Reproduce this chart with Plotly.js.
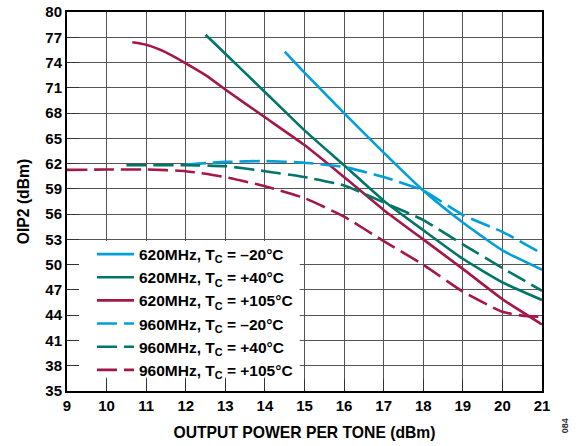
<!DOCTYPE html>
<html>
<head>
<meta charset="utf-8">
<script src="https://cdn.plot.ly/plotly-3.0.1.min.js"></script>
<style>html,body{margin:0;padding:0;background:#fff;}#chart{width:584px;height:446px;}</style>
</head>
<body>
<div id="chart"></div>
<script>
// Data
const xTicks = [9, 10, 11, 12, 13, 14, 15, 16, 17, 18, 19, 20, 21];
const yTicks = [35, 38, 41, 44, 47, 50, 53, 56, 59, 62, 65, 68, 71, 74, 77, 80];

const seriesNames = [
  "620MHz, T<sub>C</sub> = –20°C",
  "620MHz, T<sub>C</sub> = +40°C",
  "620MHz, T<sub>C</sub> = +105°C",
  "960MHz, T<sub>C</sub> = –20°C",
  "960MHz, T<sub>C</sub> = +40°C",
  "960MHz, T<sub>C</sub> = +105°C"
];

const x620m20 = [14.5, 15, 16, 17, 18, 19, 20, 21];
const y620m20 = [75.3, 72.8, 68.0, 63.3, 58.8, 55.0, 51.7, 49.4];

const x620p40 = [12.5, 13, 14, 15, 16, 17, 18, 19, 20, 21];
const y620p40 = [77.3, 75.05, 70.5, 65.95, 61.8, 57.6, 54.1, 50.7, 47.9, 45.8];

const x620p105 = [10.65, 11, 11.5, 12, 12.5, 13, 14, 15, 16, 17, 18, 19, 20, 21];
const y620p105 = [76.4, 76.1, 75.2, 73.9, 72.5, 70.8, 67.5, 64.2, 60.4, 56.5, 53.0, 49.5, 45.9, 42.9];

const x960m20 = [12, 13, 14, 15, 16, 17, 18, 19, 20, 21];
const y960m20 = [61.9, 62.2, 62.3, 62.1, 61.6, 60.4, 58.8, 55.9, 53.9, 51.3];

const x960p40 = [10.5, 11, 12, 13, 14, 15, 16, 17, 18, 19, 20, 21];
const y960p40 = [61.8, 61.8, 61.8, 61.7, 61.1, 60.4, 59.4, 57.4, 55.3, 52.4, 49.6, 46.9];

const x960p105 = [9, 10, 11, 12, 13, 14, 15, 16, 17, 18, 19, 20, 20.5, 21];
const y960p105 = [61.25, 61.3, 61.3, 61.1, 60.4, 59.3, 57.9, 55.7, 52.8, 50.0, 46.8, 44.4, 43.95, 43.8];

const cyan = "#009FDA", teal = "#00756A", crimson = "#A3174A";
const dashPat = "20px,7px";

function tr(x, y, name, color, dash) {
  return {x: x, y: y, name: name, type: "scatter", mode: "lines",
    line: {color: color, width: 2.6, dash: dash, shape: "spline", smoothing: 0.5}};
}

const data = [
  tr(x620m20, y620m20, seriesNames[0], cyan, "solid"),
  tr(x620p40, y620p40, seriesNames[1], teal, "solid"),
  tr(x620p105, y620p105, seriesNames[2], crimson, "solid"),
  tr(x960m20, y960m20, seriesNames[3], cyan, dashPat),
  tr(x960p40, y960p40, seriesNames[4], teal, dashPat),
  tr(x960p105, y960p105, seriesNames[5], crimson, dashPat)
];

const fam = "Liberation Sans, Arial, sans-serif";
const tickFont = {family: fam, size: 15, color: "#000", weight: "bold"};
const titleFont = {family: fam, size: 15.7, color: "#000", weight: "bold"};
const legendFont = {family: fam, size: 15.5, color: "#000", weight: "bold"};

const layout = {
  width: 584, height: 446,
  margin: {l: 67, r: 42, t: 12, b: 55},
  paper_bgcolor: "#fff", plot_bgcolor: "#fff",
  font: tickFont,
  showlegend: true,
  legend: {x: 0.0526, y: 0.405, xanchor: "left", yanchor: "top", bgcolor: "rgba(0,0,0,0)",
    borderwidth: 0, font: legendFont, itemwidth: 37, tracegroupgap: 0},
  xaxis: {range: [9, 21], tickvals: xTicks, ticktext: xTicks.map(String),
    showgrid: true, gridcolor: "#555", gridwidth: 1,
    ticks: "inside", ticklen: 12, tickcolor: "#333", tickwidth: 1,
    showline: true, linecolor: "#000", linewidth: 2, mirror: true,
    zeroline: false, tickfont: tickFont,
    title: {text: "OUTPUT POWER PER TONE (dBm)", font: titleFont, standoff: 14}},
  yaxis: {range: [35, 80], tickvals: yTicks, ticktext: yTicks.map(String),
    showgrid: true, gridcolor: "#555", gridwidth: 1,
    ticks: "inside", ticklen: 12, tickcolor: "#333", tickwidth: 1,
    showline: true, linecolor: "#000", linewidth: 2, mirror: true,
    zeroline: false, tickfont: tickFont,
    title: {text: "OIP2 (dBm)", font: titleFont, standoff: 12}},
  shapes: [{type: "rect", xref: "x", yref: "y", x0: 9, x1: 14.88, y0: 36.6, y1: 52.8,
    fillcolor: "#fff", line: {width: 0}, layer: "between"}],
  annotations: [{text: "084", xref: "paper", yref: "paper", x: 1.065, y: -0.116,
    showarrow: false, textangle: -90,
    font: {family: fam, size: 9, color: "#333"}}]
};

Plotly.newPlot("chart", data, layout, {displayModeBar: false, staticPlot: true});
</script>
</body>
</html>
